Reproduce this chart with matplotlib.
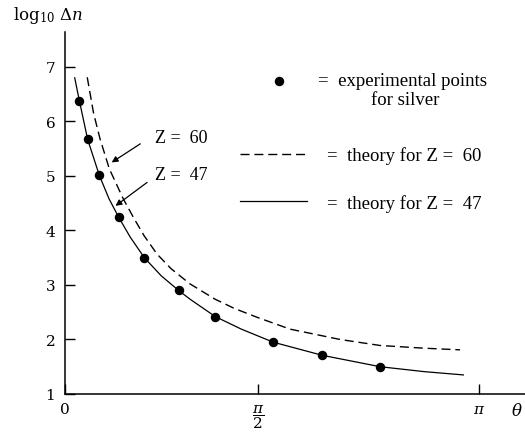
import numpy as np
import matplotlib.pyplot as plt

plt.rcParams["mathtext.fontset"] = "dejavuserif"

# experimental points for silver (theta in rad, log10 dn)
theta_exp = [0.299, 0.358, 0.441, 0.579, 0.761, 1.004, 1.265, 1.677, 2.025, 2.438]
logn_exp = [6.38, 5.67, 5.01, 4.24, 3.50, 2.90, 2.42, 1.95, 1.71, 1.50]

# theory curve Z = 47 (solid)
theta_47 = [0.266, 0.299, 0.358, 0.441, 0.510, 0.579, 0.660, 0.761, 0.880, 1.004,
            1.085, 1.265, 1.450, 1.677, 2.025, 2.438, 2.750, 3.028]
logn_47 = [6.80, 6.38, 5.67, 5.01, 4.58, 4.24, 3.88, 3.50, 3.17, 2.90,
           2.74, 2.42, 2.19, 1.95, 1.71, 1.50, 1.41, 1.35]

# theory curve Z = 60 (dashed)
theta_60 = [0.355, 0.400, 0.446, 0.512, 0.611, 0.683, 0.760, 0.850, 0.950,
            1.085, 1.263, 1.400, 1.559, 1.796, 2.152, 2.436, 2.750, 3.004]
logn_60 = [6.81, 6.15, 5.68, 5.13, 4.58, 4.24, 3.90, 3.57, 3.30,
           3.02, 2.74, 2.57, 2.41, 2.19, 2.00, 1.89, 1.84, 1.81]

ytick_vals = [1, 2, 3, 4, 5, 6, 7]
xtick_pos = [0.197, np.pi / 2, np.pi]
xtick_labels = ["0", r"$\dfrac{\pi}{2}$", r"$\pi$"]

fig = plt.figure(figsize=(5.25, 4.35), dpi=100)
ax = fig.add_axes([65 / 525, 40 / 435, 460 / 525, 362 / 435])

ax.plot(theta_47, logn_47, color="black", lw=0.9)
ax.plot(theta_60, logn_60, color="black", lw=1.0, dashes=(6.5, 3.5))
ax.plot(theta_exp, logn_exp, "o", color="black", ms=5.8, zorder=3)

ax.set_xlim(0.197, 3.466)
ax.set_ylim(1, 7.64)
for s in ["top", "right"]:
    ax.spines[s].set_visible(False)
for s in ["left", "bottom"]:
    ax.spines[s].set_linewidth(1.1)

ax.set_yticks(ytick_vals)
ax.set_xticks(xtick_pos)
ax.set_xticklabels(xtick_labels)
ax.tick_params(direction="in", length=7, width=1.0, labelsize=11, pad=7)
ax.tick_params(axis="x", pad=6)
for lab in ax.get_xticklabels() + ax.get_yticklabels():
    lab.set_family("DejaVu Serif")

fig.text(13 / 525, 1 - 15 / 435, r"log$_{10}$ $\Delta n$", family="DejaVu Serif",
         fontsize=12, ha="left", va="center")
fig.text(511 / 525, 1 - 411 / 435, r"$\theta$", fontsize=12, ha="left", va="center")

# arrows labelling the curves
ax.annotate("", xy=(0.512, 5.22), xytext=(0.1688, 0.6953), textcoords="axes fraction",
            arrowprops=dict(arrowstyle="-|>", color="black", lw=0.9, mutation_scale=9))
ax.annotate("", xy=(0.540, 4.42), xytext=(0.1833, 0.589), textcoords="axes fraction",
            arrowprops=dict(arrowstyle="-|>", color="black", lw=0.9, mutation_scale=9))
ax.text(0.1957, 0.709, "Z =  60", transform=ax.transAxes, family="Liberation Serif",
        fontsize=13, ha="left", va="center")
ax.text(0.1957, 0.6077, "Z =  47", transform=ax.transAxes, family="Liberation Serif",
        fontsize=13, ha="left", va="center")

# legend drawn by hand
lfont = dict(family="Liberation Serif", fontsize=13.5, transform=ax.transAxes, va="center")
ax.plot([0.466], [0.8655], "o", color="black", ms=5.8, transform=ax.transAxes, clip_on=False)
ax.text(0.55, 0.8655, "=  experimental points", ha="left", **lfont)
ax.text(0.739, 0.813, "for silver", ha="center", **lfont)
ax.plot([0.380, 0.525], [0.663, 0.663], color="black", lw=1.0, dashes=(6.5, 3.5),
        transform=ax.transAxes)
ax.text(0.569, 0.660, "=  theory for Z =  60", ha="left", **lfont)
ax.plot([0.380, 0.525], [0.534, 0.534], color="black", lw=0.9, transform=ax.transAxes)
ax.text(0.569, 0.528, "=  theory for Z =  47", ha="left", **lfont)

fig.savefig("out.png", dpi=100)
